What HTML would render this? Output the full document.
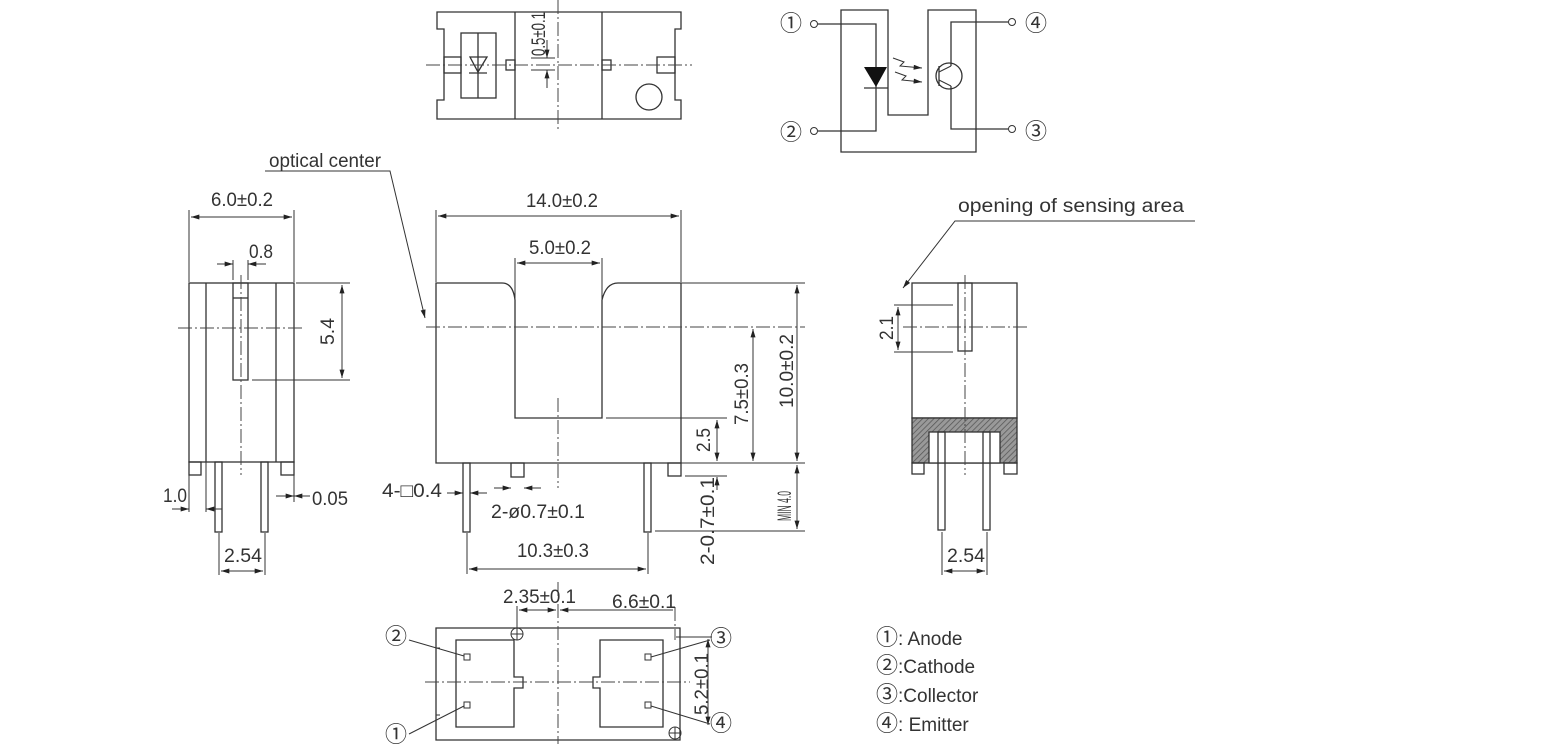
<!DOCTYPE html>
<html><head><meta charset="utf-8"><style>
html,body{margin:0;padding:0;background:#fff;}
svg{display:block;}
text{font-family:"Liberation Sans","DejaVu Sans",sans-serif;fill:#333;font-size:19px;}
.cd{font-family:"Noto Sans CJK JP","DejaVu Sans",sans-serif;font-size:22px;}
.s{stroke:#333;stroke-width:1.3;fill:none;}
.t{stroke:#333;stroke-width:1;fill:none;}
.c{stroke:#444;stroke-width:1;fill:none;stroke-dasharray:14 3 2 3;}
.h{stroke:#333;stroke-width:1.3;fill:url(#hatch);}
</style></head><body>
<svg width="1547" height="744" viewBox="0 0 1547 744" xmlns="http://www.w3.org/2000/svg">
<defs>
<pattern id="hatch" width="4" height="4" patternUnits="userSpaceOnUse" patternTransform="rotate(45)"><rect width="4" height="4" fill="#999"/><line x1="0" y1="0" x2="0" y2="4" stroke="#555" stroke-width="1.5"/></pattern>
<marker id="a" viewBox="0 0 10 6" refX="10" refY="3" markerWidth="9" markerHeight="5" orient="auto-start-reverse" markerUnits="userSpaceOnUse"><path d="M0,0 L10,3 L0,6 Z" fill="#222"/></marker>
</defs>

<!-- TOP VIEW -->
<path class="s" d="M437,12 H681 V29 H675 V100 H681 V119 H437 V100 H444 V29 H437 Z"/>
<line class="s" x1="515" y1="12" x2="515" y2="119"/>
<line class="s" x1="602" y1="12" x2="602" y2="119"/>
<rect class="s" x="461" y="33" width="35" height="65"/>
<line class="s" x1="478" y1="33" x2="478" y2="98"/>
<path class="s" d="M470,57 H487 L478,72 Z"/>
<line class="s" x1="469" y1="73" x2="487" y2="73"/>
<rect class="s" x="444" y="57" width="17" height="16"/>
<rect class="s" x="506" y="60" width="9" height="10"/>
<rect class="s" x="602" y="60" width="9" height="10"/>
<rect class="s" x="657" y="57" width="18" height="16"/>
<circle class="s" cx="649" cy="97" r="13"/>
<line class="c" x1="426" y1="65" x2="692" y2="65"/>
<line class="c" x1="558" y1="0" x2="558" y2="130"/>
<line class="t" x1="531" y1="58" x2="555" y2="58"/>
<line class="t" x1="531" y1="70" x2="555" y2="70"/>
<line class="t" x1="547" y1="40" x2="547" y2="58" marker-end="url(#a)"/>
<line class="t" x1="547" y1="88" x2="547" y2="70" marker-end="url(#a)"/>
<text transform="translate(545,56) rotate(-90)" font-size="17" textLength="44" lengthAdjust="spacingAndGlyphs">0.5±0.1</text>

<!-- SCHEMATIC -->
<path class="s" d="M841,10 H888 V115 H928 V10 H976 V152 H841 Z"/>
<text class="cd" x="780" y="31">①</text>
<text class="cd" x="780" y="140">②</text>
<text class="cd" x="1025" y="31">④</text>
<text class="cd" x="1025" y="139">③</text>
<circle class="t" cx="814" cy="24" r="3.5"/>
<circle class="t" cx="814" cy="131" r="3.5"/>
<circle class="t" cx="1012" cy="22" r="3.5"/>
<circle class="t" cx="1012" cy="129" r="3.5"/>
<path class="s" d="M818,24 H876 V131 H818"/>
<path d="M864,67 H887 L876,87 Z" fill="#111"/>
<line class="s" x1="864" y1="88" x2="888" y2="88"/>
<path class="s" d="M1008,22 H951 V66 M951,86 V129 H1008"/>
<circle class="s" cx="949" cy="76" r="13"/>
<line class="s" x1="939" y1="66" x2="939" y2="86"/>
<line class="t" x1="939" y1="72" x2="951" y2="66"/>
<line class="t" x1="939" y1="80" x2="951" y2="86"/>
<path class="t" d="M893,58 L904,62 L900,66 L922,68" marker-end="url(#a)"/>
<path class="t" d="M895,72 L906,76 L902,80 L922,82" marker-end="url(#a)"/>

<!-- OPTICAL CENTER -->
<text x="269" y="167" textLength="112" lengthAdjust="spacingAndGlyphs">optical center</text>
<path class="t" d="M265,171 H390 L425,318" marker-end="url(#a)"/>

<!-- LEFT SIDE VIEW -->
<rect class="s" x="189" y="283" width="105" height="179"/>
<line class="s" x1="206" y1="283" x2="206" y2="462"/>
<line class="s" x1="276" y1="283" x2="276" y2="462"/>
<rect class="s" x="233" y="283" width="15" height="97"/>
<line class="s" x1="233" y1="298" x2="248" y2="298"/>
<line class="c" x1="178" y1="328" x2="305" y2="328"/>
<line class="c" x1="241" y1="275" x2="241" y2="475"/>
<rect class="s" x="189" y="462" width="12" height="13"/>
<rect class="s" x="281" y="462" width="13" height="13"/>
<rect class="s" x="215" y="462" width="7" height="70"/>
<rect class="s" x="261" y="462" width="7" height="70"/>
<line class="t" x1="189" y1="210" x2="189" y2="282"/>
<line class="t" x1="294" y1="210" x2="294" y2="282"/>
<line class="t" x1="191" y1="217" x2="292" y2="217" marker-start="url(#a)" marker-end="url(#a)"/>
<text x="211" y="206" textLength="62" lengthAdjust="spacingAndGlyphs">6.0±0.2</text>
<line class="t" x1="233" y1="260" x2="233" y2="280"/>
<line class="t" x1="248" y1="260" x2="248" y2="280"/>
<line class="t" x1="217" y1="264" x2="233" y2="264" marker-end="url(#a)"/>
<line class="t" x1="266" y1="264" x2="248" y2="264" marker-end="url(#a)"/>
<text x="249" y="258" textLength="24" lengthAdjust="spacingAndGlyphs">0.8</text>
<line class="t" x1="296" y1="283" x2="350" y2="283"/>
<line class="t" x1="252" y1="380" x2="350" y2="380"/>
<line class="t" x1="342" y1="285" x2="342" y2="378" marker-start="url(#a)" marker-end="url(#a)"/>
<text transform="translate(334,345) rotate(-90)" textLength="27" lengthAdjust="spacingAndGlyphs">5.4</text>
<text x="163" y="502" textLength="24" lengthAdjust="spacingAndGlyphs">1.0</text>
<line class="t" x1="189" y1="475" x2="189" y2="512"/>
<line class="t" x1="172" y1="509" x2="189" y2="509" marker-end="url(#a)"/>
<line class="t" x1="208" y1="509" x2="222" y2="509"/>
<line class="t" x1="206" y1="462" x2="206" y2="512"/>
<line class="t" x1="215" y1="509" x2="206" y2="509" marker-end="url(#a)"/>
<line class="t" x1="294" y1="475" x2="294" y2="502"/>
<line class="t" x1="276" y1="496" x2="294" y2="496" marker-end="url(#a)"/>
<line class="t" x1="310" y1="496" x2="294" y2="496" marker-end="url(#a)"/>
<text x="312" y="505" textLength="36" lengthAdjust="spacingAndGlyphs">0.05</text>
<line class="t" x1="219" y1="533" x2="219" y2="575"/>
<line class="t" x1="265" y1="533" x2="265" y2="575"/>
<line class="t" x1="221" y1="571" x2="263" y2="571" marker-start="url(#a)" marker-end="url(#a)"/>
<text x="224" y="562" textLength="38" lengthAdjust="spacingAndGlyphs">2.54</text>

<!-- FRONT VIEW -->
<path class="s" d="M436,463 V283 H502 Q513,283 515,300 V418 H602 V300 Q606,283 618,283 H681 V463 Z"/>
<line class="t" x1="681" y1="283" x2="805" y2="283"/>
<line class="c" x1="426" y1="327" x2="805" y2="327"/>
<line class="c" x1="558" y1="398" x2="558" y2="488"/>
<rect class="s" x="463" y="463" width="7" height="69"/>
<rect class="s" x="644" y="463" width="7" height="69"/>
<rect class="s" x="511" y="463" width="13" height="14"/>
<rect class="s" x="668" y="463" width="13" height="13"/>
<line class="t" x1="436" y1="210" x2="436" y2="282"/>
<line class="t" x1="681" y1="210" x2="681" y2="282"/>
<line class="t" x1="438" y1="216" x2="679" y2="216" marker-start="url(#a)" marker-end="url(#a)"/>
<text x="526" y="207" textLength="72" lengthAdjust="spacingAndGlyphs">14.0±0.2</text>
<line class="t" x1="517" y1="263" x2="600" y2="263" marker-start="url(#a)" marker-end="url(#a)"/>
<line class="t" x1="515" y1="258" x2="515" y2="300"/>
<line class="t" x1="602" y1="258" x2="602" y2="300"/>
<text x="529" y="254" textLength="62" lengthAdjust="spacingAndGlyphs">5.0±0.2</text>
<line class="t" x1="606" y1="418" x2="727" y2="418"/>
<line class="t" x1="681" y1="463" x2="805" y2="463"/>
<line class="t" x1="797" y1="285" x2="797" y2="461" marker-start="url(#a)" marker-end="url(#a)"/>
<text transform="translate(793,408) rotate(-90)" textLength="74" lengthAdjust="spacingAndGlyphs">10.0±0.2</text>
<line class="t" x1="753" y1="329" x2="753" y2="461" marker-start="url(#a)" marker-end="url(#a)"/>
<text transform="translate(748,425) rotate(-90)" textLength="62" lengthAdjust="spacingAndGlyphs">7.5±0.3</text>
<line class="t" x1="717" y1="420" x2="717" y2="461" marker-start="url(#a)" marker-end="url(#a)"/>
<text transform="translate(710,452) rotate(-90)" textLength="24" lengthAdjust="spacingAndGlyphs">2.5</text>
<line class="t" x1="685" y1="476" x2="727" y2="476"/>
<line class="t" x1="717" y1="490" x2="717" y2="477" marker-end="url(#a)"/>
<text transform="translate(714,565) rotate(-90)" textLength="88" lengthAdjust="spacingAndGlyphs">2-0.7±0.1</text>
<line class="t" x1="655" y1="531" x2="805" y2="531"/>
<line class="t" x1="797" y1="465" x2="797" y2="529" marker-start="url(#a)" marker-end="url(#a)"/>
<text transform="translate(791,521) rotate(-90)" font-size="13" textLength="30" lengthAdjust="spacingAndGlyphs">MIN 4.0</text>
<text x="382" y="497" textLength="60" lengthAdjust="spacingAndGlyphs">4-□0.4</text>
<line class="t" x1="447" y1="493" x2="463" y2="493" marker-end="url(#a)"/>
<line class="t" x1="487" y1="493" x2="470" y2="493" marker-end="url(#a)"/>
<line class="t" x1="494" y1="488" x2="511" y2="488" marker-end="url(#a)"/>
<line class="t" x1="541" y1="488" x2="524" y2="488" marker-end="url(#a)"/>
<text x="491" y="518" textLength="94" lengthAdjust="spacingAndGlyphs">2-ø0.7±0.1</text>
<line class="t" x1="467" y1="533" x2="467" y2="574"/>
<line class="t" x1="648" y1="533" x2="648" y2="574"/>
<line class="t" x1="469" y1="569" x2="646" y2="569" marker-start="url(#a)" marker-end="url(#a)"/>
<text x="517" y="557" textLength="72" lengthAdjust="spacingAndGlyphs">10.3±0.3</text>

<!-- RIGHT SIDE VIEW -->
<text x="958" y="212" textLength="226" lengthAdjust="spacingAndGlyphs">opening of sensing area</text>
<path class="t" d="M1195,221 H955 L903,288" marker-end="url(#a)"/>
<rect class="s" x="912" y="283" width="105" height="135"/>
<rect class="h" x="912" y="418" width="105" height="45"/>
<rect x="929" y="432" width="71" height="31" fill="#fff" stroke="#333" stroke-width="1.3"/>
<rect class="s" x="958" y="283" width="14" height="68"/>
<line class="c" x1="903" y1="327" x2="1030" y2="327"/>
<line class="c" x1="965" y1="275" x2="965" y2="475"/>
<rect class="s" x="912" y="463" width="12" height="11"/>
<rect class="s" x="1004" y="463" width="13" height="11"/>
<rect class="s" x="938" y="432" width="7" height="98"/>
<rect class="s" x="983" y="432" width="7" height="98"/>
<line class="t" x1="894" y1="305" x2="953" y2="305"/>
<line class="t" x1="894" y1="352" x2="953" y2="352"/>
<line class="t" x1="898" y1="307" x2="898" y2="350" marker-start="url(#a)" marker-end="url(#a)"/>
<text transform="translate(893,340) rotate(-90)" textLength="24" lengthAdjust="spacingAndGlyphs">2.1</text>
<line class="t" x1="942" y1="532" x2="942" y2="575"/>
<line class="t" x1="987" y1="532" x2="987" y2="575"/>
<line class="t" x1="944" y1="571" x2="985" y2="571" marker-start="url(#a)" marker-end="url(#a)"/>
<text x="947" y="562" textLength="38" lengthAdjust="spacingAndGlyphs">2.54</text>

<!-- BOTTOM VIEW -->
<path class="s" d="M436,628 H680 V740 H436 Z"/>
<line class="t" x1="436" y1="648" x2="440" y2="648"/>
<line class="t" x1="436" y1="715" x2="440" y2="715"/>
<path class="s" d="M456,640 H514 V677 H523 V688 H514 V727 H456 Z"/>
<path class="s" d="M600,640 H663 V727 H600 V688 H593 V677 H600 Z"/>
<rect class="t" x="464" y="654" width="6" height="6"/>
<rect class="t" x="464" y="702" width="6" height="6"/>
<rect class="t" x="645" y="654" width="6" height="6"/>
<rect class="t" x="645" y="702" width="6" height="6"/>
<circle class="t" cx="517" cy="634" r="6"/>
<line class="t" x1="511" y1="634" x2="523" y2="634"/><line class="t" x1="517" y1="628" x2="517" y2="640"/>
<circle class="t" cx="675" cy="733" r="6"/>
<line class="t" x1="669" y1="733" x2="681" y2="733"/><line class="t" x1="675" y1="727" x2="675" y2="739"/>
<line class="c" x1="558" y1="582" x2="558" y2="744"/>
<line class="c" x1="425" y1="682" x2="690" y2="682"/>
<line class="c" x1="675" y1="607" x2="675" y2="640"/>
<line class="t" x1="517" y1="606" x2="517" y2="628"/>
<line class="t" x1="519" y1="610" x2="556" y2="610" marker-start="url(#a)" marker-end="url(#a)"/>
<line class="t" x1="560" y1="610" x2="673" y2="610" marker-start="url(#a)"/>
<text x="503" y="603" textLength="73" lengthAdjust="spacingAndGlyphs">2.35±0.1</text>
<text x="612" y="608" textLength="64" lengthAdjust="spacingAndGlyphs">6.6±0.1</text>
<line class="t" x1="676" y1="637" x2="712" y2="637"/>
<line class="t" x1="708" y1="639" x2="708" y2="725" marker-start="url(#a)" marker-end="url(#a)"/>
<text transform="translate(708,715) rotate(-90)" textLength="62" lengthAdjust="spacingAndGlyphs">5.2±0.1</text>
<text class="cd" x="385" y="644">②</text>
<text class="cd" x="385" y="742">①</text>
<text class="cd" x="710" y="646">③</text>
<text class="cd" x="710" y="731">④</text>
<line class="t" x1="409" y1="640" x2="464" y2="656"/>
<line class="t" x1="409" y1="734" x2="464" y2="706"/>
<line class="t" x1="710" y1="640" x2="651" y2="657"/>
<line class="t" x1="710" y1="724" x2="651" y2="706"/>

<!-- LEGEND -->
<text x="876" y="645"><tspan class="cd">①</tspan><tspan>: Anode</tspan></text>
<text x="876" y="673"><tspan class="cd">②</tspan><tspan>:Cathode</tspan></text>
<text x="876" y="702"><tspan class="cd">③</tspan><tspan>:Collector</tspan></text>
<text x="876" y="731"><tspan class="cd">④</tspan><tspan>: Emitter</tspan></text>
</svg>
</body></html>
